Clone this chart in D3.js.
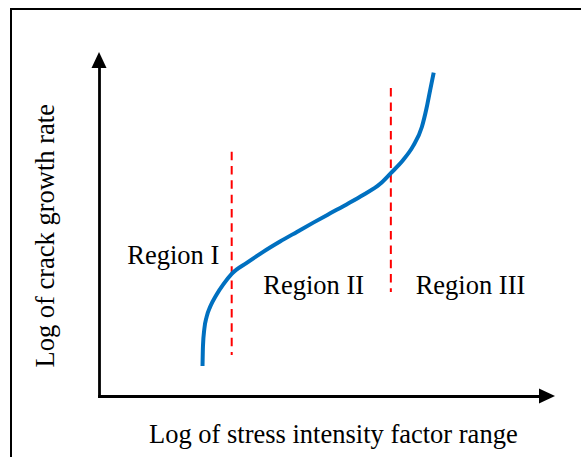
<!DOCTYPE html>
<html>
<head>
<meta charset="utf-8">
<script src="https://cdn.jsdelivr.net/npm/d3@7"></script>
<style>
  html, body { margin: 0; padding: 0; background: #fff; }
  svg { display: block; }
  text { font-family: "Liberation Serif", "Times New Roman", serif; fill: #000; }
</style>
</head>
<body>
<svg id="chart" width="581" height="457"></svg>
<script>
// Schematic crack growth curve: log(da/dN) against log(ΔK), arbitrary units 0–10.
const logK    = [2.27, 2.28, 2.31, 2.36, 2.44, 2.57, 2.73, 2.91, 3.24, 3.60, 3.97, 4.34,
                 4.70, 5.07, 5.43, 5.80, 6.16, 6.40, 6.67, 6.89, 7.08, 7.18, 7.26, 7.34];
const logRate = [0.87, 1.45, 1.95, 2.30, 2.60, 2.93, 3.25, 3.55, 3.87, 4.19, 4.49, 4.77,
                 5.04, 5.31, 5.57, 5.85, 6.16, 6.48, 6.86, 7.27, 7.82, 8.35, 8.88, 9.40];

// Region boundaries (log ΔK) and the vertical span of each dashed marker
const boundaryK    = [2.91, 6.40];
const boundaryLow  = [1.19, 3.02];
const boundaryHigh = [7.10, 8.95];

const regionNames = ["Region I", "Region II", "Region III"];
const xTitle = "Log of stress intensity factor range";
const yTitle = "Log of crack growth rate";

const svg = d3.select("#chart");

const x = d3.scaleLinear().domain([0, 10]).range([99, 555]);
const y = d3.scaleLinear().domain([0, 10]).range([396, 52]);

// Frame
svg.append("rect")
  .attr("x", 11).attr("y", 9)
  .attr("width", 620).attr("height", 520)
  .attr("fill", "none").attr("stroke", "#000").attr("stroke-width", 2);

// Axes: bare domain lines (no ticks) ending in solid arrowheads
const arrowLen = 16, arrowHalf = 7.5;
const xShaft = x.copy().range([x(0), x(10) - arrowLen + 2]);
const yShaft = y.copy().range([y(0), y(10) + arrowLen - 2]);

const gx = svg.append("g")
  .attr("transform", `translate(0,${y(0)})`)
  .call(d3.axisBottom(xShaft).tickValues([]).tickSizeOuter(0));
const gy = svg.append("g")
  .attr("transform", `translate(${x(0)},0)`)
  .call(d3.axisLeft(yShaft).tickValues([]).tickSizeOuter(0));
[gx, gy].forEach(g => g.select(".domain")
  .attr("stroke", "#000").attr("stroke-width", 2.8).attr("stroke-linecap", "square"));

svg.append("path")
  .attr("d", `M${x(10)},${y(0)} L${x(10) - arrowLen},${y(0) - arrowHalf} L${x(10) - arrowLen},${y(0) + arrowHalf} Z`)
  .attr("fill", "#000");
svg.append("path")
  .attr("d", `M${x(0)},${y(10)} L${x(0) - arrowHalf},${y(10) + arrowLen} L${x(0) + arrowHalf},${y(10) + arrowLen} Z`)
  .attr("fill", "#000");

// Dashed region boundaries
svg.selectAll("line.boundary")
  .data(boundaryK)
  .join("line")
  .attr("class", "boundary")
  .attr("x1", d => x(d)).attr("x2", d => x(d))
  .attr("y1", (d, i) => y(boundaryHigh[i]))
  .attr("y2", (d, i) => y(boundaryLow[i]))
  .attr("stroke", "#ff0000")
  .attr("stroke-width", 2)
  .attr("stroke-dasharray", "8.5,5.8");

// Crack growth curve
const pts = logK.map((k, i) => [k, logRate[i]]);
svg.append("path")
  .datum(pts)
  .attr("d", d3.line().x(d => x(d[0])).y(d => y(d[1])).curve(d3.curveMonotoneX))
  .attr("fill", "none")
  .attr("stroke", "#0070c0")
  .attr("stroke-width", 4)
  .attr("stroke-linecap", "butt");

// Region labels
const fontSize = 26.5;
const regionPos = [[173.3, 264.3], [313.7, 294.3], [470.5, 294.3]];
svg.selectAll("text.region")
  .data(regionNames)
  .join("text")
  .attr("class", "region")
  .attr("x", (d, i) => regionPos[i][0])
  .attr("y", (d, i) => regionPos[i][1])
  .attr("text-anchor", "middle")
  .style("font-size", fontSize + "px")
  .text(d => d);

// Axis titles
svg.append("text")
  .attr("x", 333.3).attr("y", 443.3)
  .attr("text-anchor", "middle")
  .style("font-size", fontSize + "px")
  .text(xTitle);

svg.append("text")
  .attr("transform", "translate(54,235.8) rotate(-90)")
  .attr("text-anchor", "middle")
  .style("font-size", fontSize + "px")
  .text(yTitle);
</script>
</body>
</html>
